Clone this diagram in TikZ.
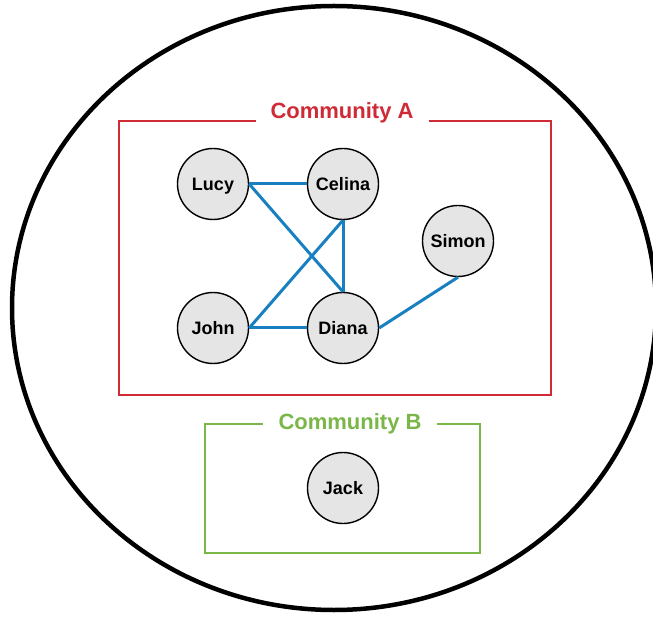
\documentclass[tikz,border=0pt]{standalone}
\usepackage{fontspec}
\setmainfont{Liberation Sans}
\usetikzlibrary{arrows,positioning}
\definecolor{cred}{RGB}{206,43,55}
\definecolor{cgreen}{RGB}{122,182,72}
\definecolor{cblue}{RGB}{24,128,192}
\definecolor{cgray}{RGB}{229,229,229}

\begin{document}
\begin{tikzpicture}[x=1pt,y=-1pt,-,auto,
  person node/.style={circle,fill=cgray,draw,line width=1.4pt,minimum size=71pt,inner sep=0pt,
    text height=13pt,text depth=0pt,font=\bfseries\fontsize{18}{18}\selectfont},
  group box/.style={line width=2.8pt},
  group label/.style={inner sep=0pt,text height=16pt,text depth=0pt,
    font=\bfseries\fontsize{22}{22}\selectfont}]
  \clip (0,0) rectangle (653,617);
  \draw[line width=4.5pt] (334,308) ellipse [x radius=322pt, y radius=302pt];

  % community A
  \node[group label,text=cred] (titleA) at (342,111) {Community A};
  \draw[group box,cred] (256,121) -| (119,395) -| (551,121) -- (429,121);
  % community B
  \node[group label,text=cgreen] (titleB) at (350,421) {Community B};
  \draw[group box,cgreen] (263,424) -| (205,553) -| (480,424) -- (437,424);

  \node[person node] (lucy) at (213,184) {Lucy};
  \node[person node] (celina) [on grid,right=130pt of lucy] {Celina};
  \node[person node] (john) [on grid,below=144pt of lucy] {John};
  \node[person node] (diana) [on grid,right=130pt of john] {Diana};
  \node[person node] (simon) at (458,241) {Simon};
  \node[person node] (jack) at (343,488) {Jack};

  \path[every edge/.style={draw=cblue,line width=3pt}]
    (lucy.east) edge (celina.west)
    (lucy.east) edge (diana.north)
    (celina.south) edge (diana.north)
    (john.east) edge (celina.south)
    (john.east) edge (diana.west)
    (diana.east) edge (simon.south);
\end{tikzpicture}
\end{document}
